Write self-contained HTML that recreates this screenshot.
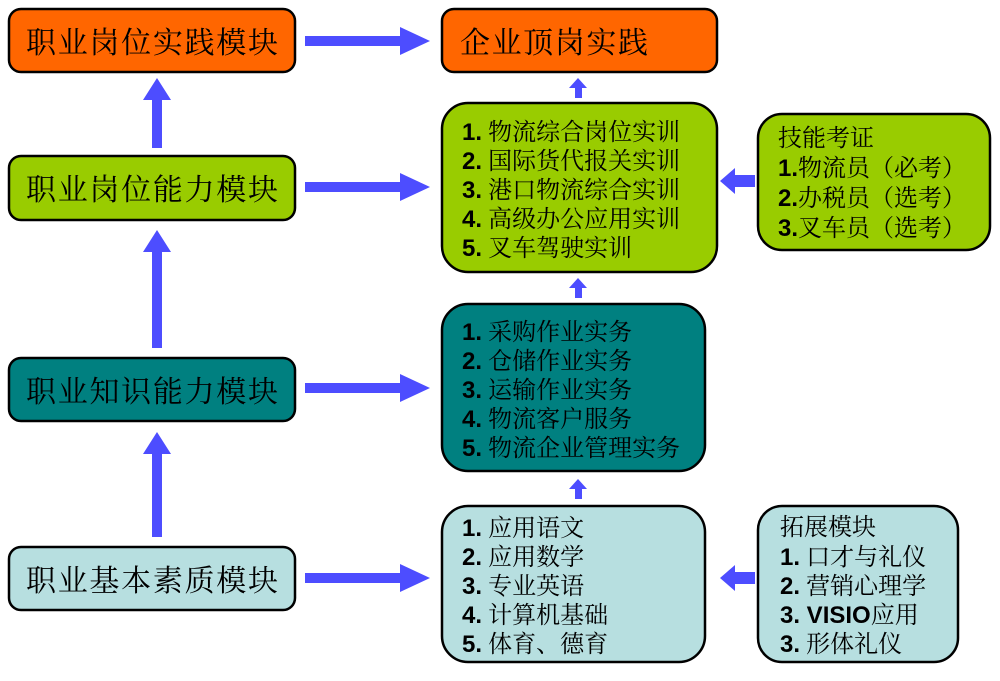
<!DOCTYPE html>
<html><head><meta charset="utf-8"><style>
body{margin:0;background:#fff;width:1000px;height:681px;overflow:hidden}
svg{display:block}
.t{font-family:"Noto Serif CJK SC","WenQuanYi Zen Hei",serif;fill:#000}
.b{font-family:"Liberation Sans",sans-serif;font-weight:bold}
</style></head><body>
<svg width="1000" height="681" viewBox="0 0 1000 681" xmlns="http://www.w3.org/2000/svg">
<g stroke="#000" stroke-width="2.5">
<rect x="9" y="9" width="286" height="63" rx="12" fill="#ff6600"/>
<rect x="9" y="156" width="286" height="64" rx="12" fill="#99cc00"/>
<rect x="9" y="358" width="286" height="63" rx="12" fill="#008080"/>
<rect x="9" y="547" width="286" height="63" rx="12" fill="#b7dfe0"/>
<rect x="442" y="9" width="275" height="63" rx="12" fill="#ff6600"/>
<rect x="442" y="103" width="275" height="169" rx="26" fill="#99cc00"/>
<rect x="442" y="304" width="263" height="167" rx="26" fill="#008080"/>
<rect x="442" y="506" width="263" height="156" rx="26" fill="#b7dfe0"/>
<rect x="758" y="114" width="232" height="136" rx="24" fill="#99cc00"/>
<rect x="758" y="506" width="200" height="156" rx="24" fill="#b7dfe0"/>
</g>
<g fill="#4d4dff">
<rect x="305" y="36" width="97" height="10"/><polygon points="400,27 430,41 400,55"/>
<rect x="305" y="182" width="97" height="10"/><polygon points="400,173 430,187 400,201"/>
<rect x="305" y="383" width="97" height="10"/><polygon points="400,374 430,388 400,402"/>
<rect x="305" y="573" width="97" height="10"/><polygon points="400,564 430,578 400,592"/>
<rect x="152" y="98" width="10" height="50"/><polygon points="143,100 157,78 171,100"/>
<rect x="152" y="250" width="10" height="98"/><polygon points="143,252 157,230 171,252"/>
<rect x="152" y="452" width="10" height="85"/><polygon points="143,454 157,432 171,454"/>
<rect x="575" y="87" width="7" height="11"/><polygon points="569,88 578,78 587,88"/>
<rect x="575" y="287" width="7" height="11"/><polygon points="569,288 578,278 587,288"/>
<rect x="575" y="488" width="7" height="11"/><polygon points="569,489 578,479 587,489"/>
<rect x="733" y="175" width="22" height="12"/><polygon points="735,168 720,181 735,194"/>
<rect x="733" y="572" width="22" height="12"/><polygon points="735,565 720,578 735,591"/>
</g>
<g class="t" font-size="30">
<text x="26" y="53" textLength="252">职业岗位实践模块</text>
<text x="26" y="200" textLength="252">职业岗位能力模块</text>
<text x="26" y="402" textLength="252">职业知识能力模块</text>
<text x="26" y="591" textLength="252">职业基本素质模块</text>
<text x="460" y="53" textLength="188">企业顶岗实践</text>
</g>
<g class="t" font-size="24">
<text x="462" y="140"><tspan class="b">1.</tspan> 物流综合岗位实训</text>
<text x="462" y="169"><tspan class="b">2.</tspan> 国际货代报关实训</text>
<text x="462" y="198"><tspan class="b">3.</tspan> 港口物流综合实训</text>
<text x="462" y="227"><tspan class="b">4.</tspan> 高级办公应用实训</text>
<text x="462" y="256"><tspan class="b">5.</tspan> 叉车驾驶实训</text>
<text x="462" y="340"><tspan class="b">1.</tspan> 采购作业实务</text>
<text x="462" y="369"><tspan class="b">2.</tspan> 仓储作业实务</text>
<text x="462" y="398"><tspan class="b">3.</tspan> 运输作业实务</text>
<text x="462" y="427"><tspan class="b">4.</tspan> 物流客户服务</text>
<text x="462" y="456"><tspan class="b">5.</tspan> 物流企业管理实务</text>
<text x="462" y="536"><tspan class="b">1.</tspan> 应用语文</text>
<text x="462" y="565"><tspan class="b">2.</tspan> 应用数学</text>
<text x="462" y="594"><tspan class="b">3.</tspan> 专业英语</text>
<text x="462" y="623"><tspan class="b">4.</tspan> 计算机基础</text>
<text x="462" y="652"><tspan class="b">5.</tspan> 体育、德育</text>
<text x="778" y="146">技能考证</text>
<text x="778" y="176"><tspan class="b">1.</tspan>物流员（必考）</text>
<text x="778" y="206"><tspan class="b">2.</tspan>办税员（选考）</text>
<text x="778" y="236"><tspan class="b">3.</tspan>叉车员（选考）</text>
<text x="780" y="535">拓展模块</text>
<text x="780" y="565"><tspan class="b">1.</tspan> 口才与礼仪</text>
<text x="780" y="594"><tspan class="b">2.</tspan> 营销心理学</text>
<text x="780" y="623"><tspan class="b">3. VISIO</tspan>应用</text>
<text x="780" y="652"><tspan class="b">3.</tspan> 形体礼仪</text>
</g>
</svg>
</body></html>
